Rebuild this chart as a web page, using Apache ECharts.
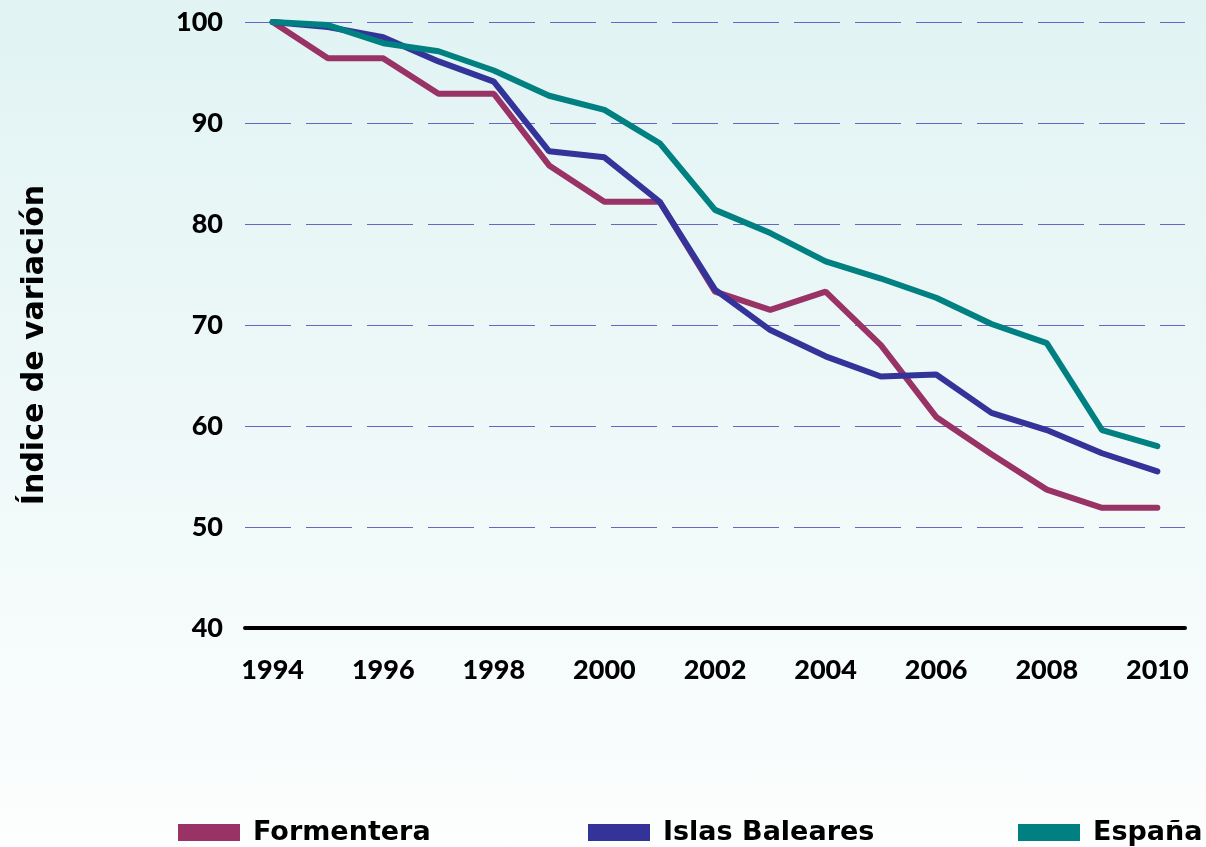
<!DOCTYPE html>
<html>
<head>
<meta charset="utf-8">
<script src="https://cdn.jsdelivr.net/npm/echarts@6/dist/echarts.min.js"></script>
<style>
  html, body { margin: 0; padding: 0; }
  #chart {
    width: 1206px; height: 847px;
    background: linear-gradient(to bottom, #e1f3f3 0%, #f0f9f9 55%, #fdfefe 100%);
  }
</style>
</head>
<body>
<div id="chart"></div>
<script>
// Index of variation (1994 = 100)
const years = ['1994','1995','1996','1997','1998','1999','2000','2001','2002',
               '2003','2004','2005','2006','2007','2008','2009','2010'];
const formentera = [100, 96.4, 96.4, 92.9, 92.9, 85.8, 82.2, 82.2, 73.3,
                    71.5, 73.3, 68.0, 60.9, 57.2, 53.7, 51.9, 51.9];
const baleares   = [100, 99.5, 98.5, 96.1, 94.1, 87.2, 86.6, 82.2, 73.5,
                    69.5, 66.9, 64.9, 65.1, 61.3, 59.6, 57.3, 55.5];
const espana     = [100, 99.7, 97.9, 97.1, 95.2, 92.7, 91.3, 88.0, 81.4,
                    79.1, 76.3, 74.6, 72.7, 70.1, 68.2, 59.6, 58.0];
const seriesNames = ['Formentera', 'Islas Baleares', 'España'];
const seriesColors = ['#993366', '#333399', '#008080'];

const NUM_FONT = 'Lato';
const TXT_FONT = 'DejaVu Sans';
const chart = echarts.init(document.getElementById('chart'), null, { renderer: 'canvas' });

const legendText = {
  color: '#000', fontFamily: TXT_FONT, fontWeight: 'bold', fontSize: 27,
  padding: [0, 0, 0, 8]
};
function legendAt(name, left) {
  return {
    data: [name], left: left, top: 814,
    icon: 'rect', itemWidth: 62, itemHeight: 17, itemGap: 13,
    textStyle: legendText
  };
}

chart.setOption({
  backgroundColor: 'transparent',
  animation: false,
  color: seriesColors,
  grid: { left: 245, right: 21, top: 22, bottom: 219 },
  legend: [
    legendAt(seriesNames[0], 173),
    legendAt(seriesNames[1], 583),
    legendAt(seriesNames[2], 1013)
  ],
  graphic: [{
    type: 'text',
    rotation: Math.PI / 2,
    x: 35, y: 345,
    style: {
      text: 'Índice de variación',
      fill: '#000',
      font: 'bold 30px "' + TXT_FONT + '"',
      textAlign: 'center',
      textVerticalAlign: 'middle'
    }
  }],
  xAxis: {
    type: 'category',
    data: years,
    boundaryGap: true,
    axisLine: { lineStyle: { color: '#000', width: 4 } },
    axisTick: { interval: 0, length: 8, lineStyle: { color: '#000', width: 3 } },
    axisLabel: {
      interval: 1, margin: 29,
      color: '#000', fontFamily: NUM_FONT, fontWeight: 900, fontSize: 27
    },
    splitLine: { show: false }
  },
  yAxis: {
    type: 'value',
    min: 40, max: 100, interval: 10,
    axisLine: { show: false },
    axisTick: { show: false },
    axisLabel: {
      margin: 22,
      color: '#000', fontFamily: NUM_FONT, fontWeight: 900, fontSize: 27
    },
    splitLine: {
      lineStyle: { color: '#6666c4', width: 1.2, type: [46, 15] }
    }
  },
  series: [formentera, baleares, espana].map((d, i) => ({
    name: seriesNames[i],
    type: 'line',
    data: d,
    showSymbol: false,
    symbol: 'none',
    lineStyle: { width: 6, color: seriesColors[i], cap: 'round' },
    itemStyle: { color: seriesColors[i] },
    z: 3 + i
  }))
});
</script>
</body>
</html>
